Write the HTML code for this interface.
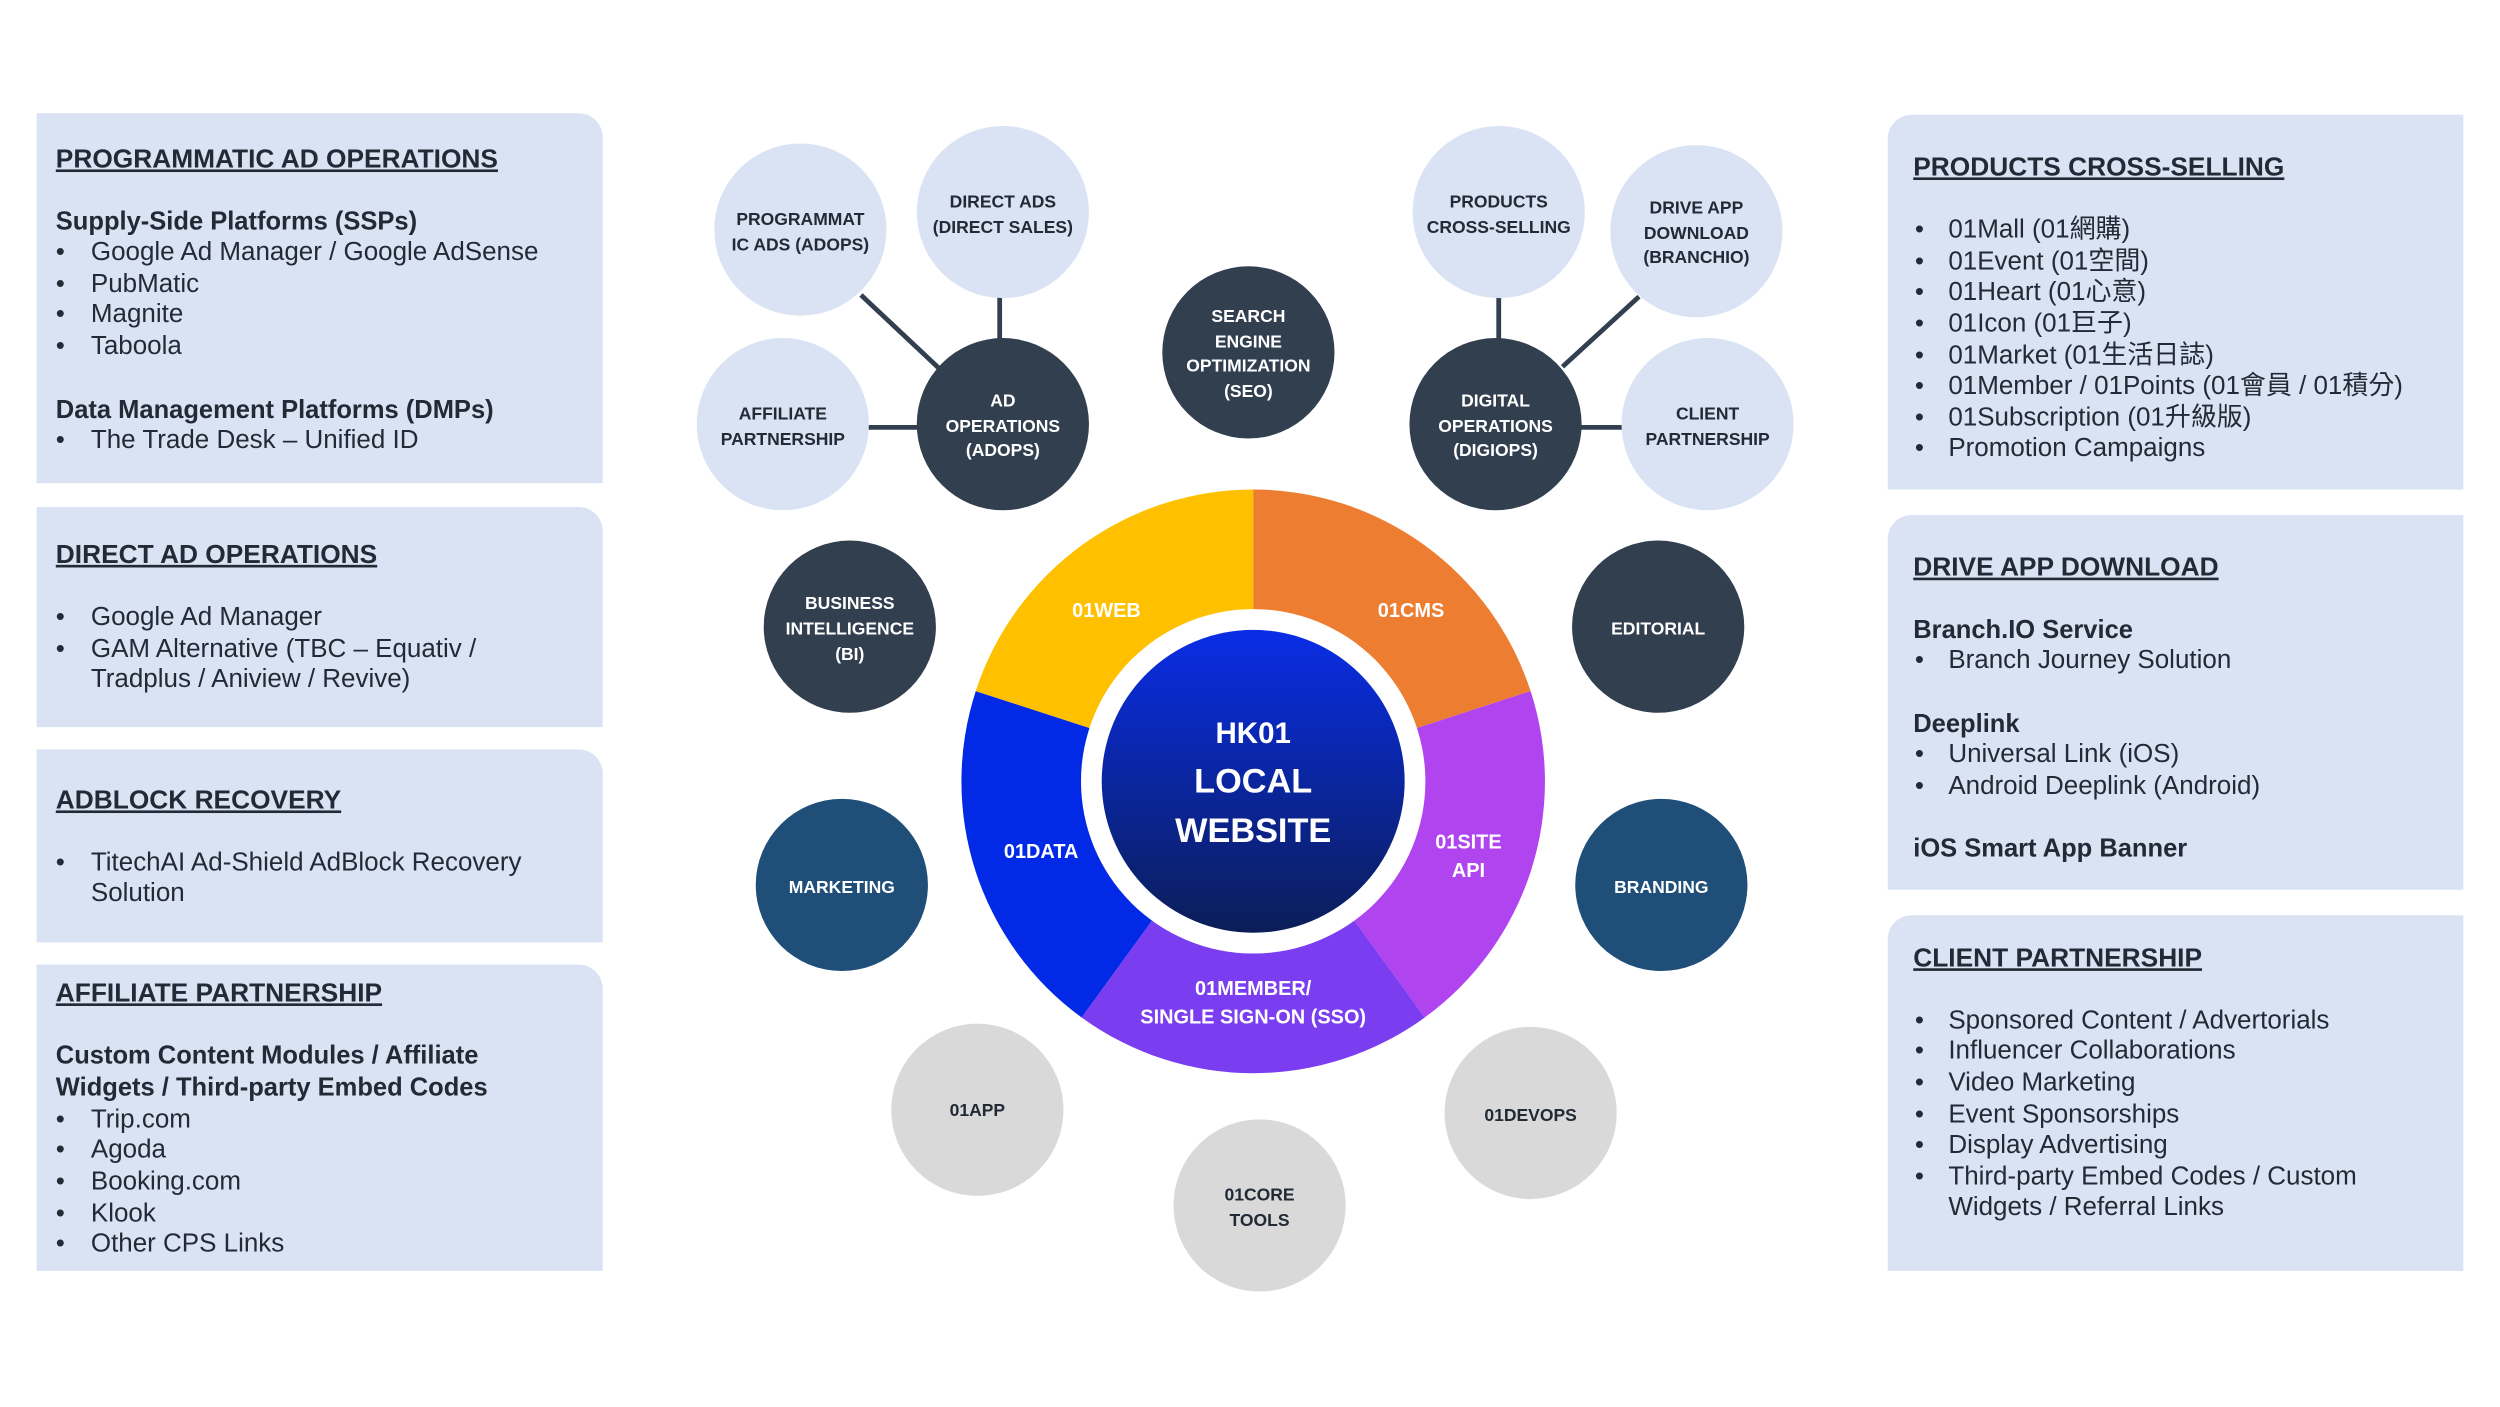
<!DOCTYPE html>
<html><head><meta charset="utf-8"><style>
html,body{margin:0;padding:0;background:#fff}
svg{display:block}
.t{font-family:"Liberation Sans","Noto Sans CJK TC",sans-serif;fill:#222a35}
.h{font-weight:bold;font-size:16.5px;text-decoration:underline}
.b{font-size:16.3px}
.bb{font-size:16px;font-weight:bold}
.c{font-family:"Liberation Sans",sans-serif;font-weight:bold;font-size:11px;text-anchor:middle}
.w{font-family:"Liberation Sans",sans-serif;font-weight:bold;fill:#fff;text-anchor:middle}
</style></head><body>
<svg width="2500" height="1407" viewBox="0 0 1568 882.4" preserveAspectRatio="none" xmlns="http://www.w3.org/2000/svg">
<defs><linearGradient id="g" x1="0" y1="0" x2="0" y2="1"><stop offset="0" stop-color="#0a2de6"/><stop offset="1" stop-color="#0b1e58"/></linearGradient></defs>
<g fill="#dae3f3">
<path d="M23 71H363a15 15 0 0 1 15 15V303H23Z"/>
<path d="M23 318H363a15 15 0 0 1 15 15V456H23Z"/>
<path d="M23 470H363a15 15 0 0 1 15 15V591H23Z"/>
<path d="M23 605H363a15 15 0 0 1 15 15V797H23Z"/>
<path d="M1199 72H1545V307H1184V87a15 15 0 0 1 15-15Z"/>
<path d="M1199 323H1545V558H1184V338a15 15 0 0 1 15-15Z"/>
<path d="M1199 574H1545V797H1184V589a15 15 0 0 1 15-15Z"/>
</g>
<g class="t">
<text x="35" y="105" class="h">PROGRAMMATIC AD OPERATIONS</text>
<text x="35" y="144" class="bb">Supply-Side Platforms (SSPs)</text>
<text class="b"><tspan x="35" y="163">•</tspan><tspan x="57">Google Ad Manager / Google AdSense</tspan><tspan x="35" y="183">•</tspan><tspan x="57">PubMatic</tspan><tspan x="35" y="202">•</tspan><tspan x="57">Magnite</tspan><tspan x="35" y="222">•</tspan><tspan x="57">Taboola</tspan></text>
<text x="35" y="262" class="bb">Data Management Platforms (DMPs)</text>
<text class="b"><tspan x="35" y="281">•</tspan><tspan x="57">The Trade Desk – Unified ID</tspan></text>

<text x="35" y="353" class="h">DIRECT AD OPERATIONS</text>
<text class="b"><tspan x="35" y="392">•</tspan><tspan x="57">Google Ad Manager</tspan><tspan x="35" y="412">•</tspan><tspan x="57">GAM Alternative (TBC – Equativ /</tspan><tspan x="57" y="431">Tradplus / Aniview / Revive)</tspan></text>

<text x="35" y="507" class="h">ADBLOCK RECOVERY</text>
<text class="b"><tspan x="35" y="546">•</tspan><tspan x="57">TitechAI Ad-Shield AdBlock Recovery</tspan><tspan x="57" y="565">Solution</tspan></text>

<text x="35" y="628" class="h">AFFILIATE PARTNERSHIP</text>
<text x="35" y="667" class="bb">Custom Content Modules / Affiliate</text>
<text x="35" y="687" class="bb">Widgets / Third-party Embed Codes</text>
<text class="b"><tspan x="35" y="707">•</tspan><tspan x="57">Trip.com</tspan><tspan x="35" y="726">•</tspan><tspan x="57">Agoda</tspan><tspan x="35" y="746">•</tspan><tspan x="57">Booking.com</tspan><tspan x="35" y="766">•</tspan><tspan x="57">Klook</tspan><tspan x="35" y="785">•</tspan><tspan x="57">Other CPS Links</tspan></text>

<text x="1200" y="110" class="h">PRODUCTS CROSS-SELLING</text>
<text class="b"><tspan x="1201" y="149">•</tspan><tspan x="1222">01Mall (01網購)</tspan><tspan x="1201" y="169">•</tspan><tspan x="1222">01Event (01空間)</tspan><tspan x="1201" y="188">•</tspan><tspan x="1222">01Heart (01心意)</tspan><tspan x="1201" y="208">•</tspan><tspan x="1222">01Icon (01巨子)</tspan><tspan x="1201" y="228">•</tspan><tspan x="1222">01Market (01生活日誌)</tspan><tspan x="1201" y="247">•</tspan><tspan x="1222">01Member / 01Points (01會員 / 01積分)</tspan><tspan x="1201" y="267">•</tspan><tspan x="1222">01Subscription (01升級版)</tspan><tspan x="1201" y="286">•</tspan><tspan x="1222">Promotion Campaigns</tspan></text>

<text x="1200" y="361" class="h">DRIVE APP DOWNLOAD</text>
<text x="1200" y="400" class="bb">Branch.IO Service</text>
<text class="b"><tspan x="1201" y="419">•</tspan><tspan x="1222">Branch Journey Solution</tspan></text>
<text x="1200" y="459" class="bb">Deeplink</text>
<text class="b"><tspan x="1201" y="478">•</tspan><tspan x="1222">Universal Link (iOS)</tspan><tspan x="1201" y="498">•</tspan><tspan x="1222">Android Deeplink (Android)</tspan></text>
<text x="1200" y="537" class="bb">iOS Smart App Banner</text>

<text x="1200" y="606" class="h">CLIENT PARTNERSHIP</text>
<text class="b"><tspan x="1201" y="645">•</tspan><tspan x="1222">Sponsored Content / Advertorials</tspan><tspan x="1201" y="664">•</tspan><tspan x="1222">Influencer Collaborations</tspan><tspan x="1201" y="684">•</tspan><tspan x="1222">Video Marketing</tspan><tspan x="1201" y="704">•</tspan><tspan x="1222">Event Sponsorships</tspan><tspan x="1201" y="723">•</tspan><tspan x="1222">Display Advertising</tspan><tspan x="1201" y="743">•</tspan><tspan x="1222">Third-party Embed Codes / Custom</tspan><tspan x="1222" y="762">Widgets / Referral Links</tspan></text>
</g>

<g stroke="#323f4f" stroke-width="3">
<line x1="540" y1="185" x2="590" y2="232"/>
<line x1="627" y1="185" x2="627" y2="215"/>
<line x1="543" y1="268" x2="578" y2="268"/>
<line x1="940" y1="185" x2="940" y2="215"/>
<line x1="1028" y1="186" x2="980" y2="230"/>
<line x1="990" y1="268" x2="1020" y2="268"/>
</g>

<g fill="#dae3f3">
<circle cx="502" cy="144" r="54"/><circle cx="629" cy="133" r="54"/><circle cx="491" cy="266" r="54"/>
<circle cx="940" cy="133" r="54"/><circle cx="1064" cy="145" r="54"/><circle cx="1071" cy="266" r="54"/>
</g>
<g fill="#323f4f">
<circle cx="629" cy="266" r="54"/><circle cx="783" cy="221" r="54"/><circle cx="938" cy="266" r="54"/>
<circle cx="533" cy="393" r="54"/><circle cx="1040" cy="393" r="54"/>
</g>
<g fill="#1f4e79"><circle cx="528" cy="555" r="54"/><circle cx="1042" cy="555" r="54"/></g>
<g fill="#d9d9d9"><circle cx="613" cy="696" r="54"/><circle cx="790" cy="756" r="54"/><circle cx="960" cy="698" r="54"/></g>

<g class="c" fill="#222a35">
<text x="502" y="141">PROGRAMMAT</text><text x="502" y="157">IC ADS (ADOPS)</text>
<text x="629" y="130">DIRECT ADS</text><text x="629" y="146">(DIRECT SALES)</text>
<text x="491" y="263">AFFILIATE</text><text x="491" y="279">PARTNERSHIP</text>
<text x="940" y="130">PRODUCTS</text><text x="940" y="146">CROSS-SELLING</text>
<text x="1064" y="134">DRIVE APP</text><text x="1064" y="150">DOWNLOAD</text><text x="1064" y="165">(BRANCHIO)</text>
<text x="1071" y="263">CLIENT</text><text x="1071" y="279">PARTNERSHIP</text>
<text x="613" y="700">01APP</text>
<text x="790" y="753">01CORE</text><text x="790" y="769">TOOLS</text>
<text x="960" y="703">01DEVOPS</text>
</g>
<g class="c" fill="#fff">
<text x="629" y="255">AD</text><text x="629" y="271">OPERATIONS</text><text x="629" y="286">(ADOPS)</text>
<text x="783" y="202">SEARCH</text><text x="783" y="218">ENGINE</text><text x="783" y="233">OPTIMIZATION</text><text x="783" y="249">(SEO)</text>
<text x="938" y="255">DIGITAL</text><text x="938" y="271">OPERATIONS</text><text x="938" y="286">(DIGIOPS)</text>
<text x="533" y="382">BUSINESS</text><text x="533" y="398">INTELLIGENCE</text><text x="533" y="414">(BI)</text>
<text x="1040" y="398">EDITORIAL</text>
<text x="528" y="560">MARKETING</text>
<text x="1042" y="560">BRANDING</text>
</g>

<g transform="translate(786,490)">
<path d="M0 0L0 -183A183 183 0 0 1 174.0 -56.6Z" fill="#ed7d31"/>
<path d="M0 0L174.0 -56.6A183 183 0 0 1 107.6 148.1Z" fill="#b045f0"/>
<path d="M0 0L107.6 148.1A183 183 0 0 1 -107.6 148.1Z" fill="#7a3ef0"/>
<path d="M0 0L-107.6 148.1A183 183 0 0 1 -174.0 -56.6Z" fill="#0229e6"/>
<path d="M0 0L-174.0 -56.6A183 183 0 0 1 0 -183Z" fill="#ffc000"/>
<circle r="108" fill="#fff"/>
<circle r="95" fill="url(#g)"/>
</g>
<g class="w" font-size="12.5">
<text x="694" y="387">01WEB</text>
<text x="885" y="387">01CMS</text>
<text x="921" y="532">01SITE</text><text x="921" y="550">API</text>
<text x="653" y="538">01DATA</text>
<text x="786" y="624">01MEMBER/</text><text x="786" y="642">SINGLE SIGN-ON (SSO)</text>
</g>
<g class="w">
<text x="786" y="466" font-size="18.5">HK01</text>
<text x="786" y="497" font-size="21.5">LOCAL</text>
<text x="786" y="528" font-size="21.5">WEBSITE</text>
</g>
</svg>
</body></html>
